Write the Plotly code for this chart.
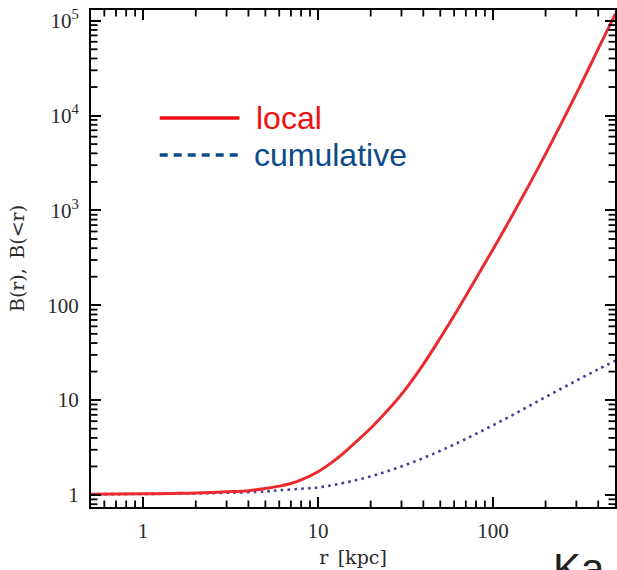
import plotly.graph_objects as go

# Radius grid [kpc] and the two boost-factor profiles
r_local = [0.5, 0.7, 1, 1.5, 2, 3, 4, 5, 6, 7, 8, 10, 12.6, 15.8, 20, 25.1, 31.6,
           39.8, 50.1, 63.1, 79.4, 100, 125.9, 158.5, 199.5, 251.2, 316.2, 398.1, 501.2]
b_local = [1.02, 1.025, 1.03, 1.04, 1.05, 1.08, 1.11, 1.17, 1.24, 1.32, 1.44, 1.76,
           2.36, 3.38, 5.05, 7.85, 13.0, 23.5, 45.5, 91, 187, 388, 815, 1760, 3900,
           8900, 20700, 49500, 118000]

r_cumul = [0.5, 1, 2, 3, 5, 6, 8, 10, 12.6, 15.8, 20, 25.1, 31.6, 39.8, 50.1, 63.1,
           79.4, 100, 125.9, 158.5, 199.5, 251.2, 316.2, 398.1, 501.2]
b_cumul = [1.02, 1.025, 1.04, 1.055, 1.09, 1.12, 1.165, 1.20, 1.288, 1.409, 1.572,
           1.788, 2.073, 2.443, 2.928, 3.56, 4.38, 5.43, 6.78, 8.52, 10.73, 13.49,
           16.9, 21.06, 26.06]

y_tickvals = [1, 10, 100, 1000, 1e4, 1e5]
y_ticktext = ["1", "10", "100", "10<sup>3</sup>", "10<sup>4</sup>", "10<sup>5</sup>"]
x_tickvals = [1, 10, 100]
x_ticktext = ["1", "10", "100"]

X_RANGE = [-0.298, 2.698]
Y_RANGE = [-0.1265, 5.113]

# minor tick positions: every integer digit inside each decade, kept within range
x_minor = [round(m * 10.0 ** e, 6) for e in range(-1, 3) for m in range(2, 10)
           if 10 ** X_RANGE[0] < m * 10.0 ** e < 10 ** X_RANGE[1]]
y_minor = [round(m * 10.0 ** e, 6) for e in range(-1, 6) for m in range(2, 10)
           if 10 ** Y_RANGE[0] < m * 10.0 ** e < 10 ** Y_RANGE[1]]

RED = "#ec2a30"
NAVY = "#40409c"
LEG_BLUE = "#0c4a8a"

fig = go.Figure()
fig.add_trace(go.Scatter(x=r_cumul, y=b_cumul, mode="lines", line_shape="spline",
                         line=dict(color=NAVY, width=2.6, dash="2.6px,4.2px"),
                         showlegend=False))
fig.add_trace(go.Scatter(x=r_local, y=b_local, mode="lines", line_shape="spline",
                         line=dict(color=RED, width=3), showlegend=False))

W, H = 617, 570
L, R, T, B = 91, 0, 10, 63
pw, ph = W - L - R, H - T - B


def px(x):
    return (x - L) / pw


def py(y):
    return (H - B - y) / ph


tick_font = dict(family="Liberation Serif", size=21, color="#2a2a2a")
axis_common = dict(type="log", showline=True, linecolor="black", linewidth=2,
                   mirror="ticks", ticks="inside", ticklen=10, tickwidth=1.8,
                   tickcolor="black", showgrid=False, zeroline=False,
                   tickfont=tick_font, tickmode="array")

fig.update_layout(
    xaxis=dict(**axis_common, range=X_RANGE, tickvals=x_tickvals, ticktext=x_ticktext,
               ticklabelstandoff=4,
               title=dict(text="r\u2002[kpc]", standoff=8,
                          font=dict(family="DejaVu Serif", size=19, color="#2a2a2a"))),
    yaxis=dict(**axis_common, range=Y_RANGE, tickvals=y_tickvals, ticktext=y_ticktext,
               ticklabelstandoff=6,
               title=dict(text="B(r),\u2002B(&lt;r)", standoff=18,
                          font=dict(family="DejaVu Serif", size=19, color="#2a2a2a"))),
)

# short inward minor ticks on all four sides
MINOR_LEN = 6.5
minor_line = dict(color="black", width=1.8)
shapes = []
for v in x_minor:
    shapes.append(dict(type="line", xref="x", yref="paper", x0=v, x1=v,
                       y0=0, y1=MINOR_LEN / ph, line=minor_line, layer="above"))
    shapes.append(dict(type="line", xref="x", yref="paper", x0=v, x1=v,
                       y0=1, y1=1 - MINOR_LEN / ph, line=minor_line, layer="above"))
for v in y_minor:
    shapes.append(dict(type="line", xref="paper", yref="y", y0=v, y1=v,
                       x0=0, x1=MINOR_LEN / pw, line=minor_line, layer="above"))
    shapes.append(dict(type="line", xref="paper", yref="y", y0=v, y1=v,
                       x0=1, x1=1 - MINOR_LEN / pw, line=minor_line, layer="above"))

# Hand-drawn key
shapes += [
    dict(type="line", xref="paper", yref="paper", x0=px(160), x1=px(240), y0=py(118), y1=py(118),
         line=dict(color="#f01010", width=3.5)),
    dict(type="line", xref="paper", yref="paper", x0=px(160), x1=px(240), y0=py(155), y1=py(155),
         line=dict(color=LEG_BLUE, width=3.5, dash="8px,6px")),
]
annotations = [
    dict(text="local", xref="paper", yref="paper", x=px(255), y=py(118), xanchor="left",
         yanchor="middle", showarrow=False,
         font=dict(family="Liberation Sans", size=32, color="#f01010")),
    dict(text="cumulative", xref="paper", yref="paper", x=px(253), y=py(155), xanchor="left",
         yanchor="middle", showarrow=False,
         font=dict(family="Liberation Sans", size=32, color=LEG_BLUE)),
    dict(text="Ka", xref="paper", yref="paper", x=px(553), y=py(543), xanchor="left",
         yanchor="top", showarrow=False,
         font=dict(family="Liberation Sans", size=42, color="#222222")),
]

fig.update_layout(width=W, height=H, margin=dict(l=L, r=R, t=T, b=B, pad=0),
                  paper_bgcolor="white", plot_bgcolor="white",
                  shapes=shapes, annotations=annotations)

fig.write_html("out.html")
